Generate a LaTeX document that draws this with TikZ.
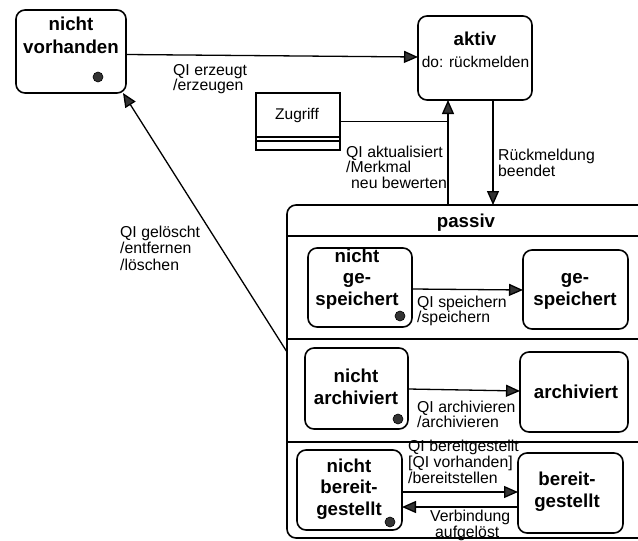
\documentclass[tikz,border=0pt]{standalone}
\usepackage{fontspec}
\setmainfont{Liberation Sans}
\usetikzlibrary{arrows.meta}

% multi-line nodes are anchored at the baseline of their last line
\tikzset{
  box/.style={draw, line width=1.6pt, rounded corners=9pt, inner sep=0pt, outer sep=0pt},
  statename/.style={font=\bfseries\fontsize{18.7}{21.5}\selectfont, align=center, inner sep=0pt, anchor=base},
  lbl/.style={font=\fontsize{15.8}{15.5}\selectfont, align=left, inner sep=0pt, anchor=base west},
  conn/.style={line width=1.3pt, -{Triangle[length=14pt,width=12pt,fill=black!80]}},
  plain/.style={line width=1.3pt},
  divider/.style={line width=1.4pt},
  dot/.style={circle, fill=black!80, draw=black, line width=0.6pt, minimum size=10pt, inner sep=0pt},
}

\begin{document}
\begin{tikzpicture}[x=1pt,y=-1pt]
\useasboundingbox (0,0) rectangle (638,541);
\clip (0,0) rectangle (638,541);

% states on the top level
\node[box, minimum width=110pt, minimum height=83pt] (nv) at (71,51.5) {};
\node[statename, font=\bfseries\fontsize{18.7}{23}\selectfont] (nvtxt) at (71,53) {nicht\\vorhanden};
\node[dot] (nvdot) at ([xshift=-28pt,yshift=16pt]nv.south east) {};

\node[box, minimum width=114pt, minimum height=84pt] (aktiv) at (475,58) {};
\node[statename] (akttxt) at (475,45) {aktiv};
\node[font=\fontsize{15.5}{15.5}\selectfont, inner sep=0pt, anchor=base] (aktdo) at (475.5,67) {do: rückmelden};

% class symbol
\node[draw, line width=1.4pt, minimum width=84pt, minimum height=57pt, inner sep=0pt, outer sep=0pt] (zug) at (298,121.5) {};
\draw[line width=1.2pt] ([yshift=13pt]zug.south west) -- ([yshift=13pt]zug.south east);
\draw[line width=1.2pt] ([yshift=9pt]zug.south west) -- ([yshift=9pt]zug.south east);
\node[font=\fontsize{15.5}{15.5}\selectfont, inner sep=0pt, anchor=base] (zugtxt) at (297,119) {Zugriff};

% composite state passiv
\node[box, minimum width=373pt, minimum height=333pt] (passiv) at (473.5,371.5) {};
\node[statename] (pastxt) at (466,227) {passiv};
\coordinate (r1) at (0,236);
\coordinate (r2) at (0,339);
\coordinate (r3) at (0,442);
\draw[divider] (passiv.west |- r1) -- (passiv.east |- r1);
\draw[divider] (passiv.west |- r2) -- (passiv.east |- r2);
\draw[divider] (passiv.west |- r3) -- (passiv.east |- r3);

% region: speichern
\node[box, minimum width=104pt, minimum height=79pt] (ng) at (360,287.5) {};
\node[statename] (ngtxt) at (357,305) {nicht\\ge-\\speichert};
\node[dot] (ngdot) at ([xshift=-12pt,yshift=11pt]ng.south east) {};
\node[box, minimum width=105pt, minimum height=79pt] (gs) at (575.5,289.5) {};
\node[statename] (gstxt) at (575,305) {ge-\\speichert};

% region: archivieren
\node[box, minimum width=103pt, minimum height=81pt] (na) at (356.5,388.5) {};
\node[statename] (natxt) at (356,404) {nicht\\archiviert};
\node[dot] (nadot) at ([xshift=-10pt,yshift=10pt]na.south east) {};
\node[box, minimum width=108pt, minimum height=80pt] (ar) at (574,392) {};
\node[statename] (artxt) at (576,398) {archiviert};

% region: bereitstellen
\node[box, minimum width=105pt, minimum height=80pt] (nb) at (349.5,490) {};
\node[statename] (nbtxt) at (349,515) {nicht\\bereit-\\gestellt};
\node[dot] (nbdot) at ([xshift=-12pt,yshift=8pt]nb.south east) {};
\node[box, minimum width=105pt, minimum height=80pt] (bg) at (570.5,493) {};
\node[statename] (bgtxt) at (567,507) {bereit-\\gestellt};

% transitions
\draw[conn] ([yshift=-3pt]nv.east) -- ([yshift=1pt]aktiv.west);
\node[lbl, font=\fontsize{15.8}{15}\selectfont] (lerz) at (173,90) {QI erzeugt\\/erzeugen};

\coordinate (jn) at (448,121.5);
\draw[plain] (zug.east) -- (jn);
\draw[conn] (passiv.north -| jn) -- (aktiv.south -| jn);
\node[lbl] (lakt) at (346,188) {QI aktualisiert\\/Merkmal\\\hspace*{5pt}neu bewerten};

\draw[conn] ([xshift=18pt]aktiv.south) -- ([xshift=18pt]aktiv.south |- passiv.north);
\node[lbl, font=\fontsize{15.8}{16}\selectfont] (lrm) at (498,176) {Rückmeldung\\beendet};

\draw[conn] ([yshift=19.5pt]passiv.west) -- ([xshift=-3pt]nv.south east);
\node[lbl, font=\fontsize{15.8}{16.5}\selectfont] (lgel) at (120,270) {QI gelöscht\\/entfernen\\/löschen};

\draw[conn] ([yshift=-1.5pt]ng.east) -- ([yshift=-0.5pt]gs.west);
\node[lbl, font=\fontsize{15.8}{15}\selectfont] (lsp) at (417,322) {QI speichern\\/speichern};

\draw[conn] ([yshift=-0.5pt]na.east) -- ([yshift=1pt]ar.west);
\node[lbl, font=\fontsize{15.8}{15}\selectfont] (lar) at (417,427) {QI archivieren\\/archivieren};

\draw[conn] ([yshift=-2pt]nb.east) -- ([yshift=1pt]bg.west);
\node[lbl, font=\fontsize{15.8}{12.5}\selectfont] (lbg) at (408,483) {QI bereitgestellt\\{[}QI vorhanden{]}\\/bereitstellen};
\draw[conn] ([yshift=-14pt]bg.west) -- ([yshift=-17pt]nb.east);
\node[lbl, font=\fontsize{15.8}{14}\selectfont] (lvb) at (430,537) {Verbindung\\\hspace*{5pt}aufgelöst};
\end{tikzpicture}
\end{document}
